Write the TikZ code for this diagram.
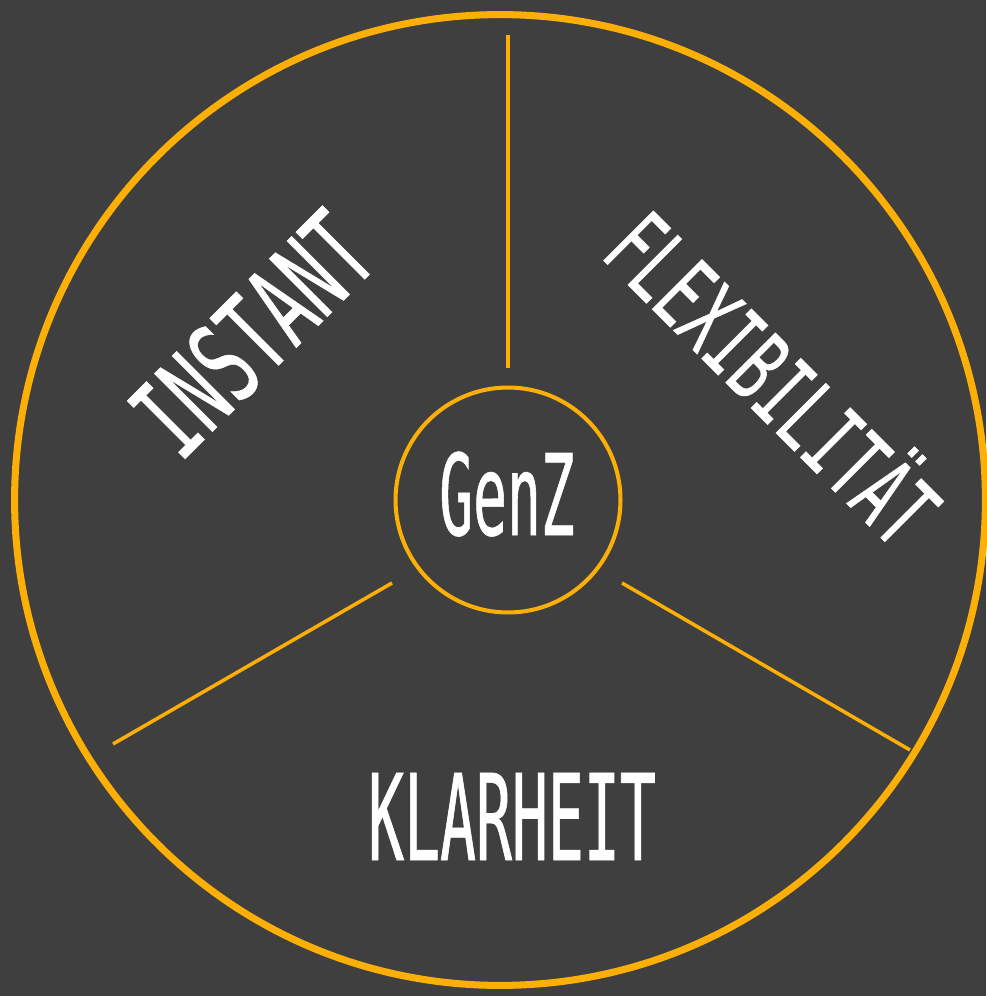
\documentclass[tikz,border=0pt]{standalone}
\usepackage{fontspec}
\newfontfamily\gzfont[FakeStretch=0.5, FakeBold=0.5]{DejaVu Sans Mono}
\newfontfamily\gzwidefont[FakeStretch=0.6, FakeBold=0.5]{DejaVu Sans Mono}
\usetikzlibrary{positioning}
\usepackage{xcolor}
\definecolor{gzgray}{HTML}{3F3F3F}
\definecolor{gzorange}{HTML}{FCAF06}
\definecolor{gzwhite}{HTML}{FFFFFF}

\tikzset{
  spoke/.style={draw=gzorange, line width=2pt},
  ring/.style={circle, draw=gzorange, inner sep=0pt},
  label/.style={text=gzwhite, anchor=base, inner sep=0pt}
}

\begin{document}
\begin{tikzpicture}[x=0.02cm, y=-0.02cm]
        \fill[gzgray] (0,0) rectangle (986,996);
        \useasboundingbox (0,0) rectangle (986,996);
        % outer and inner rings
        \node[ring, line width=4pt, minimum size=19.42cm] (outer) at (500,500) {};
        \node[ring, line width=2.3pt, minimum size=4.5cm] (hub) at (508,500) {};
        % spokes
        \coordinate (topin) at (508,368);
        \coordinate (topout) at (508,35);
        \coordinate (leftin) at (392,583);
        \coordinate (leftout) at (113,744);
        \coordinate (rightin) at (622,583);
        \coordinate (rightout) at (910,750);
        \draw[spoke] (topin) -- (topout);
        \draw[spoke] (leftin) -- (leftout);
        \draw[spoke] (rightin) -- (rightout);
        % texts
        \node[label, font=\gzfont\fontsize{64}{64}\selectfont] (genz) at (507,535) {GenZ};
        \node[label, font=\gzfont\fontsize{68}{68}\selectfont] (klarheit) at (512,860) {KLARHEIT};
        \node[label, rotate=45, font=\gzwidefont\fontsize{64}{64}\selectfont] (instant) at (281,363) {INSTANT};
        \node[label, rotate=-45, font=\gzwidefont\fontsize{55}{55}\selectfont] (flex) at (747,404) {FLEXIBILITÄT};
      \end{tikzpicture}
\end{document}
